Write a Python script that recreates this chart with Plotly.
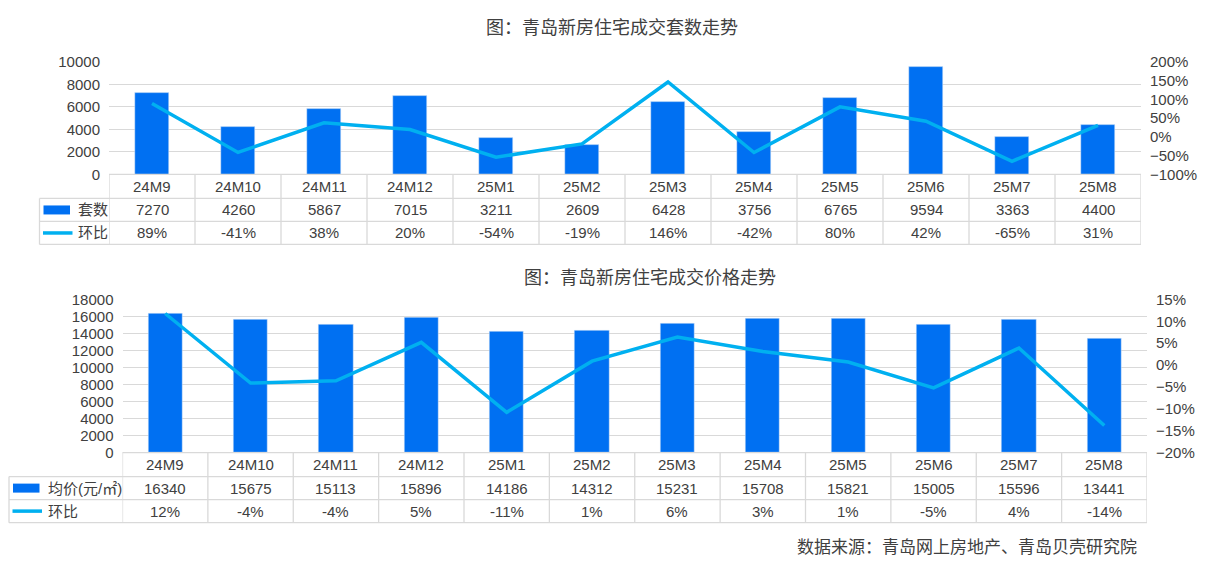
import plotly.graph_objects as go

# page has an 8px body margin; size the figure so the whole page is 1217x574
PAGE_W, PAGE_H, M = 1217, 574, 8
W, H = PAGE_W - 2 * M, PAGE_H - 2 * M
# empirical vertical calibration of the photographed page
V_OFF, V_SCALE = 8.9, 0.969

months = ["24M9", "24M10", "24M11", "24M12", "25M1", "25M2",
          "25M3", "25M4", "25M5", "25M6", "25M7", "25M8"]

# Chart 1: transaction units
units = [7270, 4260, 5867, 7015, 3211, 2609, 6428, 3756, 6765, 9594, 3363, 4400]
units_mom = [89, -41.4, 37.7, 19.6, -54.2, -18.7, 146.4, -41.6, 80.1, 41.8, -64.9, 30.8]
units_mom_labels = ["89%", "-41%", "38%", "20%", "-54%", "-19%",
                    "146%", "-42%", "80%", "42%", "-65%", "31%"]

# Chart 2: average price
price = [16340, 15675, 15113, 15896, 14186, 14312, 15231, 15708, 15821, 15005, 15596, 13441]
price_mom = [11.8, -4.1, -3.6, 5.2, -10.8, 0.9, 6.4, 3.1, 0.7, -5.2, 3.9, -13.8]
price_mom_labels = ["12%", "-4%", "-4%", "5%", "-11%", "1%",
                    "6%", "3%", "1%", "-5%", "4%", "-14%"]

title1 = "图：青岛新房住宅成交套数走势"
title2 = "图：青岛新房住宅成交价格走势"
name_units = "套数"
name_price = "均价(元/㎡)"
name_mom = "环比"
source = "数据来源：青岛网上房地产、青岛贝壳研究院"

BAR = "#0070F2"
LINE = "#00B0F0"
TXT = "#404040"
GRID = "#D9D9D9"
FONT = "Liberation Sans, Arial, Noto Sans CJK SC, sans-serif"


def X(px):
    return (px - M) / W


def Y(py):
    p = (py - V_OFF) / V_SCALE
    return 1 - (p - M) / H


fig = go.Figure()

fig.add_trace(go.Bar(x=months, y=units, marker_color=BAR, width=0.4,
                     xaxis="x", yaxis="y", showlegend=False))
fig.add_trace(go.Scatter(x=months, y=units_mom, mode="lines",
                         line=dict(color=LINE, width=3.5),
                         xaxis="x", yaxis="y2", showlegend=False))
fig.add_trace(go.Bar(x=months, y=price, marker_color=BAR, width=0.4,
                     xaxis="x2", yaxis="y3", showlegend=False))
fig.add_trace(go.Scatter(x=months, y=price_mom, mode="lines",
                         line=dict(color=LINE, width=3.5),
                         xaxis="x2", yaxis="y4", showlegend=False))

# geometry (target pixels)
c1 = dict(left=109, right=1141, top=61.5, bottom=174, rows=[174, 198, 221, 244], leg=39.5)
c2 = dict(left=122.5, right=1147, top=299, bottom=452, rows=[452, 476, 499, 522], leg=9)

tickfont = dict(family=FONT, size=15, color=TXT)

fig.update_layout(
    width=W, height=H, margin=dict(l=0, r=0, t=0, b=0),
    paper_bgcolor="white", plot_bgcolor="white",
    font=dict(family=FONT, color=TXT, size=15),
    bargap=0,
    xaxis=dict(domain=[X(c1["left"]), X(c1["right"])], range=[-0.5, 11.5],
               showticklabels=False, showgrid=False, zeroline=False, showline=False,
               anchor="y", type="category"),
    yaxis=dict(domain=[Y(c1["bottom"]), Y(c1["top"])], range=[0, 10000], dtick=2000,
               tickformat="d",
               showgrid=True, gridcolor=GRID, zeroline=False, showline=False,
               tickfont=tickfont, ticks="", ticklabelstandoff=8, anchor="x"),
    yaxis2=dict(domain=[Y(c1["bottom"]), Y(c1["top"])], range=[-100, 200], dtick=50,
                ticksuffix="%", overlaying="y", side="right", showgrid=False,
                zeroline=False, showline=False, tickfont=tickfont, ticks="",
                ticklabelstandoff=8, anchor="x"),
    xaxis2=dict(domain=[X(c2["left"]), X(c2["right"])], range=[-0.5, 11.5],
                showticklabels=False, showgrid=False, zeroline=False, showline=False,
                anchor="y3", type="category"),
    yaxis3=dict(domain=[Y(c2["bottom"]), Y(c2["top"])], range=[0, 18000], dtick=2000,
                tickformat="d",
                showgrid=True, gridcolor=GRID, zeroline=False, showline=False,
                tickfont=tickfont, ticks="", ticklabelstandoff=8, anchor="x2"),
    yaxis4=dict(domain=[Y(c2["bottom"]), Y(c2["top"])], range=[-20, 15], dtick=5,
                ticksuffix="%", overlaying="y3", side="right", showgrid=False,
                zeroline=False, showline=False, tickfont=tickfont, ticks="",
                ticklabelstandoff=8, anchor="x2"),
)

shapes = []
annos = []


def table(c, xref, values_row, mom_row, series_name):
    r = c["rows"]
    shapes.append(dict(type="line", xref="paper", yref="paper",
                       x0=X(c["left"]), x1=X(c["right"]), y0=Y(r[0]), y1=Y(r[0]),
                       line=dict(color=GRID, width=1.3)))
    for ry in r[1:]:
        shapes.append(dict(type="line", xref="paper", yref="paper",
                           x0=X(c["leg"]), x1=X(c["right"]), y0=Y(ry), y1=Y(ry),
                           line=dict(color=GRID, width=1.3)))
    for k in range(len(months) + 1):
        shapes.append(dict(type="line", xref=xref, yref="paper",
                           x0=k - 0.5, x1=k - 0.5, y0=Y(r[0]), y1=Y(r[3]),
                           line=dict(color=GRID, width=1.3)))
    shapes.append(dict(type="line", xref="paper", yref="paper",
                       x0=X(c["leg"]), x1=X(c["leg"]), y0=Y(r[1]), y1=Y(r[3]),
                       line=dict(color=GRID, width=1.3)))
    for i, m in enumerate(months):
        for row, txt in ((0, m), (1, str(values_row[i])), (2, mom_row[i])):
            annos.append(dict(xref=xref, yref="paper", x=m,
                              y=Y((r[row] + r[row + 1]) / 2), text=txt,
                              showarrow=False, xanchor="center", yanchor="middle",
                              font=dict(family=FONT, size=15, color=TXT)))
    lx = c["leg"] + 4
    cy1 = (r[1] + r[2]) / 2
    cy2 = (r[2] + r[3]) / 2
    shapes.append(dict(type="rect", xref="paper", yref="paper",
                       x0=X(lx), x1=X(lx + 26.5), y0=Y(cy1 - 4.5), y1=Y(cy1 + 4.5),
                       fillcolor=BAR, line=dict(width=0)))
    shapes.append(dict(type="line", xref="paper", yref="paper",
                       x0=X(lx - 0.5), x1=X(lx + 29), y0=Y(cy2), y1=Y(cy2),
                       line=dict(color=LINE, width=3.5)))
    annos.append(dict(xref="paper", yref="paper", x=X(lx + 32.5), y=Y(cy1),
                      text=series_name, showarrow=False, xanchor="left",
                      yanchor="middle", font=dict(family=FONT, size=15, color=TXT)))
    annos.append(dict(xref="paper", yref="paper", x=X(lx + 32.5), y=Y(cy2),
                      text=name_mom, showarrow=False, xanchor="left",
                      yanchor="middle", font=dict(family=FONT, size=15, color=TXT)))


table(c1, "x", units, units_mom_labels, name_units)
table(c2, "x2", price, price_mom_labels, name_price)

annos.append(dict(xref="paper", yref="paper", x=X(612), y=Y(28), text=title1,
                  showarrow=False, xanchor="center", yanchor="middle",
                  font=dict(family=FONT, size=18, color=TXT)))
annos.append(dict(xref="paper", yref="paper", x=X(650), y=Y(278), text=title2,
                  showarrow=False, xanchor="center", yanchor="middle",
                  font=dict(family=FONT, size=18, color=TXT)))
annos.append(dict(xref="paper", yref="paper", x=X(1139), y=Y(547), text=source,
                  showarrow=False, xanchor="right", yanchor="middle",
                  font=dict(family=FONT, size=17, color=TXT)))

fig.update_layout(shapes=shapes, annotations=annos)
fig.write_html("out.html")
